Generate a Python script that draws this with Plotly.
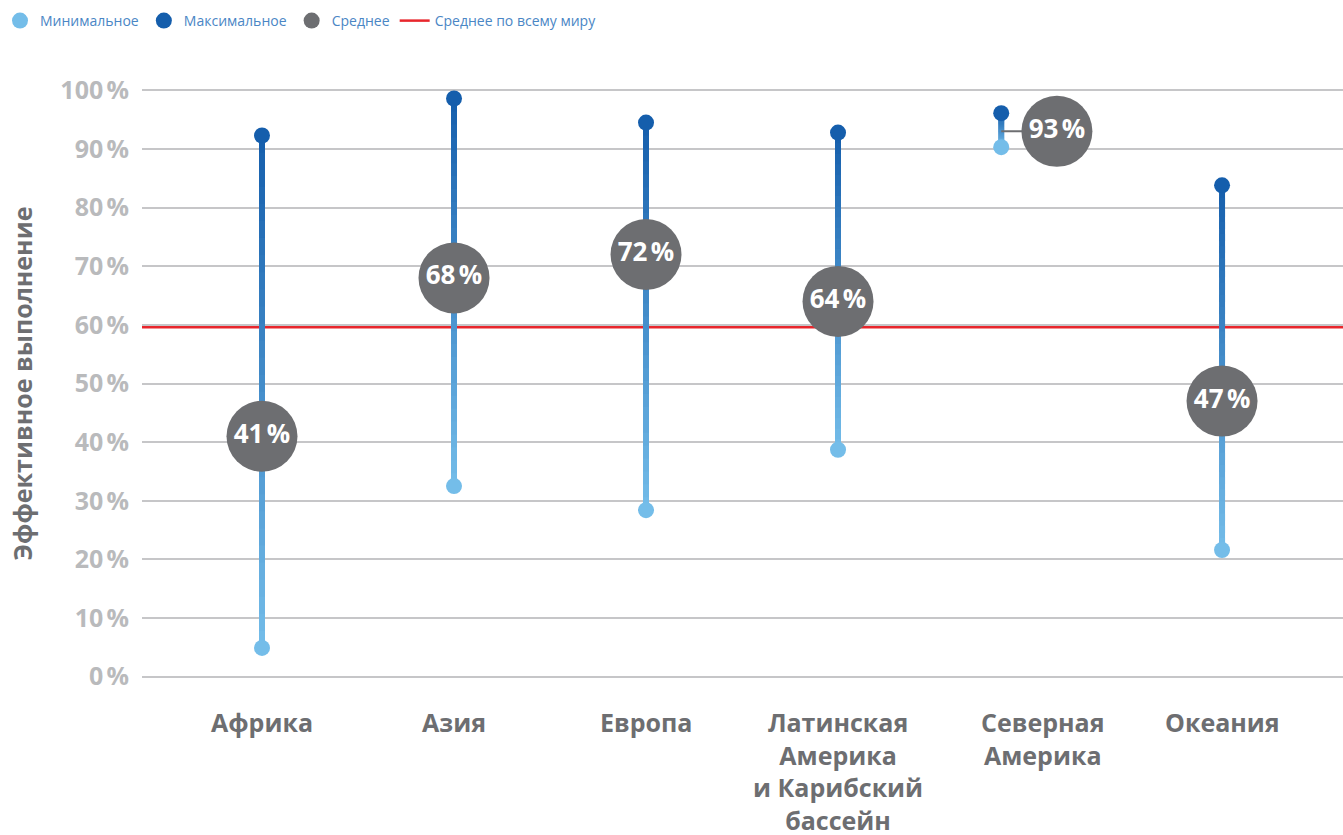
import plotly.graph_objects as go

regions = ["Африка", "Азия", "Европа", "Латинская<br>Америка<br>и Карибский<br>бассейн", "Северная<br>Америка", "Океания"]
min_vals = [4.9, 32.5, 28.4, 38.7, 90.3, 21.6]
max_vals = [92.3, 98.6, 94.5, 92.8, 96.1, 83.8]
mean_vals = [41, 68, 72, 64, 93, 47]
world_mean = 59.6
y_ticks = [0, 10, 20, 30, 40, 50, 60, 70, 80, 90, 100]

# horizontal offsets (layout only) for the crowded North America group
line_offset = [0, 0, 0, 0, -0.15, 0]
mean_offset = [0, 0, 0, 0, 0.14, 0]

DARK = (21, 94, 172)
LIGHT = (116, 189, 233)
GRAY = "#6d6e71"

fig = go.Figure()

def mix(t):
    c = [round(DARK[i] + (LIGHT[i] - DARK[i]) * t) for i in range(3)]
    return f"rgb({c[0]},{c[1]},{c[2]})"

# world average line (drawn first, beneath the markers)
fig.add_trace(go.Scatter(x=[-0.625, 5.63], y=[world_mean, world_mean], mode="lines",
                         name="Среднее по всему миру", legendrank=4,
                         line=dict(color="#e8262c", width=2.5)))

# gradient stems
nseg = 30
for i in range(len(regions)):
    xi = i + line_offset[i]
    lo, hi = min_vals[i], max_vals[i]
    step = (hi - lo) / nseg
    for k in range(nseg):
        y0 = hi - step * k
        y1 = max(lo, hi - step * (k + 1.6))
        fig.add_trace(go.Scatter(x=[xi, xi], y=[y0, y1], mode="lines",
                                 line=dict(color=mix((k + 0.5) / nseg), width=6),
                                 showlegend=False, hoverinfo="skip"))

# connectors for offset mean bubbles
for i in range(len(regions)):
    if mean_offset[i] != line_offset[i]:
        fig.add_trace(go.Scatter(x=[i + line_offset[i], i + mean_offset[i]],
                                 y=[mean_vals[i], mean_vals[i]], mode="lines",
                                 line=dict(color=GRAY, width=2),
                                 showlegend=False, hoverinfo="skip"))

fig.add_trace(go.Scatter(x=[i + line_offset[i] for i in range(len(regions))], y=min_vals,
                         mode="markers", name="Минимальное", legendrank=1,
                         marker=dict(color="rgb(116,189,233)", size=16)))
fig.add_trace(go.Scatter(x=[i + line_offset[i] for i in range(len(regions))], y=max_vals,
                         mode="markers", name="Максимальное", legendrank=2,
                         marker=dict(color="rgb(21,94,172)", size=16)))
fig.add_trace(go.Scatter(x=[i + mean_offset[i] for i in range(len(regions))], y=mean_vals,
                         mode="markers+text", name="Среднее", legendrank=3,
                         marker=dict(color=GRAY, size=71),
                         text=[f"<b>{v}\u202f%</b>" for v in mean_vals],
                         textposition="middle center",
                         textfont=dict(color="white", size=26, family="Open Sans")))

for i, r in enumerate(regions):
    fig.add_annotation(x=i + (0.07 if i == 4 else 0), y=0, xref="x", yref="y",
                       text=f"<b>{r}</b>", showarrow=False, yanchor="top",
                       yshift=-26, align="center",
                       font=dict(size=25, color=GRAY, family="Open Sans"))

fig.update_layout(
    width=1343, height=835,
    margin=dict(l=142, r=0, t=61, b=129),
    plot_bgcolor="white", paper_bgcolor="white",
    font=dict(family="Open Sans", color=GRAY),
    legend=dict(orientation="h", x=0.0, y=0.994, xref="container", yref="container",
                xanchor="left", yanchor="top", traceorder="normal",
                font=dict(size=14, color="#4a86c5", family="Open Sans"),
                itemsizing="trace", tracegroupgap=0),
    xaxis=dict(range=[-0.625, 5.63], showgrid=False, zeroline=False,
               showticklabels=False, fixedrange=True),
    yaxis=dict(range=[-5, 105], tickvals=y_ticks,
               ticktext=[f"<b>{v}\u202f%</b>" for v in y_ticks],
               tickfont=dict(size=25, color="#b9babc", family="Open Sans"),
               showgrid=True, gridcolor="#c6c6c8", gridwidth=2,
               zeroline=False, ticklabelstandoff=12,
               title=dict(text="<b>Эффективное выполнение</b>",
                          font=dict(size=25, color=GRAY, family="Open Sans"),
                          standoff=20)),
    showlegend=True,
)

fig.write_html("out.html")
